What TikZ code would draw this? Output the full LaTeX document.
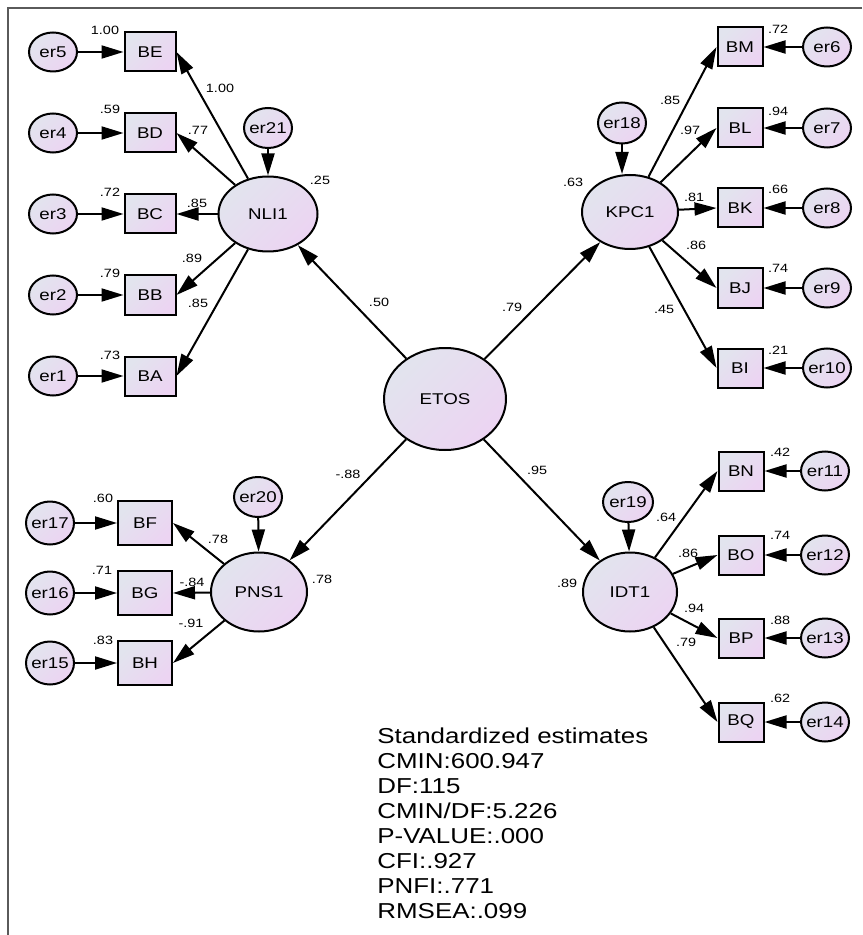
\documentclass[tikz,border=0pt]{standalone}
\usepackage{fontspec}
\setmainfont[FakeStretch=1.2]{Liberation Sans}
\usetikzlibrary{arrows.meta}
\usetikzlibrary{shapes.geometric}

\definecolor{semtop}{HTML}{E2E4EE}
\definecolor{sembot}{HTML}{ECD4F2}
\definecolor{framegray}{HTML}{5A5A5A}

\tikzset{
  semfill/.style={top color=semtop, bottom color=sembot, shading angle=45},
  obs/.style={rectangle, draw, line width=1pt, semfill, inner sep=0pt,
    minimum width=25.5pt, minimum height=19.5pt, font=\fontsize{7.8}{9}\selectfont},
  obsb/.style={obs, minimum width=27pt, minimum height=22pt},
  obsr/.style={obs, minimum width=22.5pt},
  err/.style={ellipse, draw, line width=1pt, semfill, inner xsep=-1pt, inner ysep=0pt,
    minimum width=24pt, minimum height=19.5pt, font=\fontsize{7.8}{9}\selectfont},
  errb/.style={err, minimum height=21.5pt},
  lat/.style={ellipse, draw, line width=1pt, semfill, inner sep=0pt,
    minimum width=48pt, minimum height=37.5pt, font=\fontsize{7.8}{9}\selectfont},
  est/.style={inner sep=0pt, font=\fontsize{6}{7}\selectfont},
  reg/.style={line width=1pt, -{Triangle[length=11pt,width=6.5pt]}},
  framed/.style={framegray, line width=1pt}
}

\begin{document}
\begin{tikzpicture}[x=0.5pt, y=-0.5pt]
  \useasboundingbox (0,0) rectangle (862,935);
  \draw[framed] (862,8) -- (8,8) -- (8,935);

  \node (etos) [lat, minimum width=61pt, minimum height=51pt] at (445,399) {ETOS};
  \node (nli) [lat, minimum width=49.5pt] at (268,214) {NLI1};
  \node (kpc) [lat, minimum height=37pt] at (630,212) {KPC1};
  \node (pns) [lat, minimum height=39.5pt] at (259,592) {PNS1};
  \node (idt) [lat, minimum width=47pt, minimum height=39.5pt] at (630,592) {IDT1};

  \node (e21) [err, minimum height=20pt] at (268,128) {er21};
  \node (e18) [err, minimum height=20.5pt] at (622,123) {er18};
  \node (e20) [err, minimum height=20pt] at (258,497) {er20};
  \node (e19) [err, minimum width=25pt, minimum height=20pt] at (628,502) {er19};

  \node (be) [obs] at (150,52) {BE};
  \node (bd) [obs] at (150,133) {BD};
  \node (bc) [obs] at (150,214) {BC};
  \node (bb) [obs] at (150,295) {BB};
  \node (ba) [obs] at (150,376) {BA};
  \node (e5) [err] at (53,52) {er5};
  \node (e4) [err] at (53,133) {er4};
  \node (e3) [err] at (53,214) {er3};
  \node (e2) [err] at (53,295) {er2};
  \node (e1) [err] at (53,376) {er1};

  \node (bm) [obsr] at (740,47) {BM};
  \node (bl) [obsr] at (740,128) {BL};
  \node (bk) [obsr] at (740,208) {BK};
  \node (bj) [obsr] at (740,288) {BJ};
  \node (bi) [obsr] at (740,368) {BI};
  \node (e6) [err] at (827,47) {er6};
  \node (e7) [err] at (827,128) {er7};
  \node (e8) [err] at (827,208) {er8};
  \node (e9) [err] at (827,288) {er9};
  \node (e10) [err] at (827,368) {er10};

  \node (bf) [obsb] at (145,523) {BF};
  \node (bg) [obsb] at (145,593) {BG};
  \node (bh) [obsb] at (145,663) {BH};
  \node (e17) [errb] at (50,523) {er17};
  \node (e16) [errb] at (50,593) {er16};
  \node (e15) [errb] at (50,663) {er15};

  \node (bn) [obsr] at (741,471) {BN};
  \node (bo) [obsr] at (741,555) {BO};
  \node (bp) [obsr] at (741,638) {BP};
  \node (bq) [obsr] at (741,722) {BQ};
  \node (e11) [err] at (825,471) {er11};
  \node (e12) [err] at (825,555) {er12};
  \node (e13) [err] at (825,638) {er13};
  \node (e14) [err] at (825,722) {er14};

  \draw[reg] (etos) -- (nli);
  \draw[reg] (etos) -- (kpc);
  \draw[reg] (etos) -- (pns);
  \draw[reg] (etos) -- (idt);

  \draw[reg] (e21) -- (nli);
  \draw[reg] (e18) -- (e18 |- kpc.north);
  \draw[reg] (e20) -- (pns);
  \draw[reg] (e19) -- (idt);

  \draw[reg] (nli) -- (be.east);
  \draw[reg] (nli) -- (bd.east);
  \draw[reg] (nli) -- (bc.east);
  \draw[reg] (nli) -- (bb.east);
  \draw[reg] (nli) -- (ba.east);
  \draw[reg] (e5) -- (be);
  \draw[reg] (e4) -- (bd);
  \draw[reg] (e3) -- (bc);
  \draw[reg] (e2) -- (bb);
  \draw[reg] (e1) -- (ba);

  \draw[reg] (kpc) -- (bm.west);
  \draw[reg] (kpc) -- (bl.west);
  \draw[reg] (kpc) -- (bk.west);
  \draw[reg] (kpc) -- (bj.west);
  \draw[reg] (kpc) -- (bi.west);
  \draw[reg] (e6) -- (bm);
  \draw[reg] (e7) -- (bl);
  \draw[reg] (e8) -- (bk);
  \draw[reg] (e9) -- (bj);
  \draw[reg] (e10) -- (bi);

  \draw[reg] (pns) -- (bf.east);
  \draw[reg] (pns) -- (bg.east);
  \draw[reg] (pns) -- (bh.east);
  \draw[reg] (e17) -- (bf);
  \draw[reg] (e16) -- (bg);
  \draw[reg] (e15) -- (bh);

  \draw[reg] (idt) -- (bn.west);
  \draw[reg] (idt) -- (bo.west);
  \draw[reg] (idt) -- (bp.west);
  \draw[reg] (idt) -- (bq.west);
  \draw[reg] (e11) -- (bn);
  \draw[reg] (e12) -- (bo);
  \draw[reg] (e13) -- (bp);
  \draw[reg] (e14) -- (bq);

  \node (rbe) [est] at (105,30) {1.00};
  \node (rbd) [est] at (110,109) {.59};
  \node (rbc) [est] at (110,192) {.72};
  \node (rbb) [est] at (110,273) {.79};
  \node (rba) [est] at (110,355) {.73};
  \node (wbe) [est] at (220,88) {1.00};
  \node (wbd) [est] at (198,130) {.77};
  \node (wbc) [est] at (197,203) {.85};
  \node (wbb) [est] at (192,258) {.89};
  \node (wba) [est] at (198,303) {.85};
  \node (rnli) [est] at (320,180) {.25};
  \node (wnli) [est] at (379,302) {.50};

  \node (rbm) [est] at (778,29) {.72};
  \node (rbl) [est] at (778,111) {.94};
  \node (rbk) [est] at (778,189) {.66};
  \node (rbj) [est] at (778,268) {.74};
  \node (rbi) [est] at (778,350) {.21};
  \node (wbm) [est] at (670,100) {.85};
  \node (wbl) [est] at (690,130) {.97};
  \node (wbk) [est] at (694,197) {.81};
  \node (wbj) [est] at (696,245) {.86};
  \node (wbi) [est] at (664,309) {.45};
  \node (rkpc) [est] at (573,182) {.63};
  \node (wkpc) [est] at (512,307) {.79};

  \node (rbf) [est] at (103,498) {.60};
  \node (rbg) [est] at (102,570) {.71};
  \node (rbh) [est] at (103,640) {.83};
  \node (wbf) [est] at (218,539) {.78};
  \node (wbg) [est] at (192,582) {-.84};
  \node (wbh) [est] at (191,623) {-.91};
  \node (rpns) [est] at (322,579) {.78};
  \node (wpns) [est] at (348,474) {-.88};

  \node (rbn) [est] at (780,452) {.42};
  \node (rbo) [est] at (780,535) {.74};
  \node (rbp) [est] at (780,620) {.88};
  \node (rbq) [est] at (780,698) {.62};
  \node (wbn) [est] at (666,517) {.64};
  \node (wbo) [est] at (688,553) {.86};
  \node (wbp) [est] at (694,608) {.94};
  \node (wbq) [est] at (686,642) {.79};
  \node (ridt) [est] at (567,583) {.89};
  \node (widt) [est] at (537,470) {.95};

  \node (fit) [anchor=north west, align=left, inner sep=0pt,
    font=\fontsize{10.8}{12.5}\selectfont] at (377,727)
    {Standardized estimates\\CMIN:600.947\\DF:115\\CMIN/DF:5.226\\P-VALUE:.000\\CFI:.927\\PNFI:.771\\RMSEA:.099};
\end{tikzpicture}
\end{document}
